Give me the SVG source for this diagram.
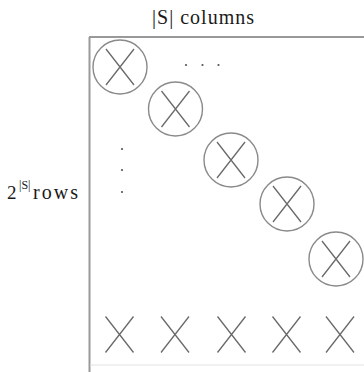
<svg xmlns="http://www.w3.org/2000/svg" width="364" height="372" viewBox="0 0 364 372">
<style>
.lbl{font-family:'Liberation Serif','Times New Roman','DejaVu Serif',serif;fill:#1a1a1a}
.circ{fill:none;stroke:#8a8a8a;stroke-width:1.4}
.x{stroke:#6a6a6a;stroke-width:1.3;fill:none}
.dot{fill:#555}
</style>
<defs>
<g id="cross"><path class="x" d="M-14,-18 L14,18 M14,-18 L-14,18"/></g>
<g id="ccross"><circle class="circ" r="27"/><use href="#cross"/></g>
</defs>
<rect width="364" height="372" fill="#fff"/>
<g id="frame">
<line x1="89" y1="37" x2="364" y2="37" stroke="#777" stroke-width="1.3"/>
<line x1="89.5" y1="37" x2="89.5" y2="372" stroke="#9a9a9a" stroke-width="2"/>
<line x1="90" y1="365" x2="364" y2="365" stroke="#e2e2e2" stroke-width="1"/>
</g>
<g id="title"><text class="lbl" font-family="Liberation Serif, serif" x="152" y="24" font-size="20" textLength="102" lengthAdjust="spacing">|S| columns</text></g>
<g id="rowlabel">
<text class="lbl" font-family="Liberation Serif, serif" x="7" y="199" font-size="19">2</text>
<text class="lbl" font-family="Liberation Serif, serif" x="19" y="189" font-size="12">|S|</text>
<text class="lbl" font-family="Liberation Serif, serif" x="33" y="199" font-size="20" textLength="45" lengthAdjust="spacing">rows</text>
</g>
<g id="c1"><use href="#ccross" x="120" y="67"/></g>
<g id="c2"><use href="#ccross" x="175.5" y="109"/></g>
<g id="c3"><use href="#ccross" x="231" y="160"/></g>
<g id="c4"><use href="#ccross" x="287" y="204"/></g>
<g id="c5"><use href="#ccross" x="336" y="259"/></g>
<g id="hdots"><circle class="dot" cx="186" cy="65" r="1.1"/><circle class="dot" cx="202.5" cy="65" r="1.1"/><circle class="dot" cx="218.5" cy="65" r="1.1"/></g>
<g id="vdots"><circle class="dot" cx="122" cy="149" r="1.1"/><circle class="dot" cx="122" cy="170" r="1.1"/><circle class="dot" cx="122" cy="192" r="1.1"/></g>
<g id="b1"><use href="#cross" x="119.5" y="334.5"/></g>
<g id="b2"><use href="#cross" x="175" y="334.5"/></g>
<g id="b3"><use href="#cross" x="231.5" y="334.5"/></g>
<g id="b4"><use href="#cross" x="286.5" y="334.5"/></g>
<g id="b5"><use href="#cross" x="340" y="334.5"/></g>
<g id="connectors"></g>
</svg>
